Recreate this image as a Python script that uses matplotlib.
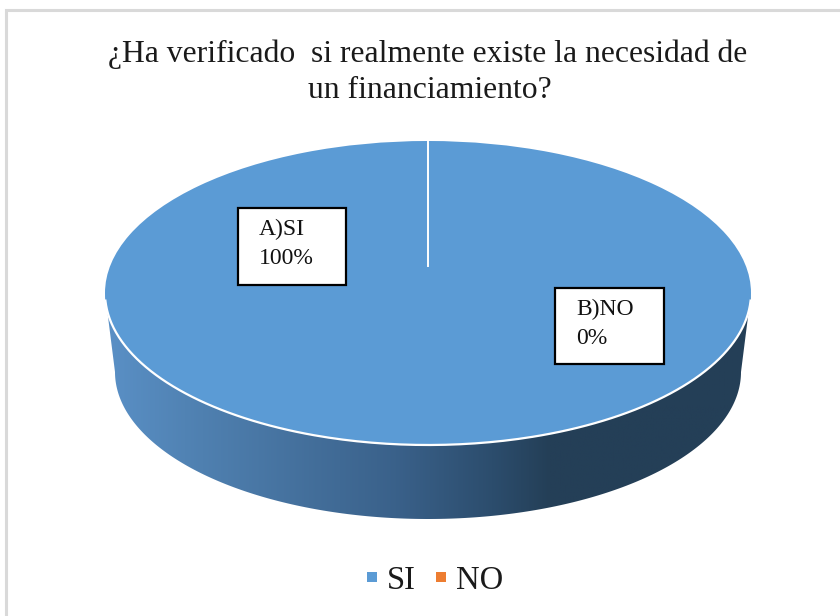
import numpy as np
import matplotlib
matplotlib.use("Agg")
import matplotlib.pyplot as plt
from matplotlib.colors import LinearSegmentedColormap
from matplotlib.patches import Polygon

# Data
categories = ["SI", "NO"]
values = [100, 0]
colors = ["#5B9BD5", "#ED7D31"]
title_lines = ["¿Ha verificado  si realmente existe la necesidad de", "un financiamiento?"]
label_a = ["A)SI", "100%"]
label_b = ["B)NO", "0%"]

W, H = 840, 616
plt.rcParams['font.family'] = ['Liberation Serif', 'DejaVu Serif']

fig = plt.figure(figsize=(W/100, H/100), dpi=100)

# Background in pixel coords
bg = fig.add_axes([0, 0, 1, 1], zorder=1)
bg.set_xlim(0, W)
bg.set_ylim(H, 0)
bg.axis("off")

# Grey frame, left and top only
bg.plot([6, 6, W], [H, 10, 10], color="#D9D9D9", lw=2.2, solid_joinstyle="miter")

# Side of the 3D pie
cx, cy, rx, ry = 428, 293, 323, 152
t = np.linspace(0, np.pi, 200)
top_x = cx + rx*np.cos(t)
top_y = cy + ry*np.sin(t)
low_x = 428 + 313*np.cos(t)
low_y = 372 + 147*np.sin(t)
side_x = np.concatenate([top_x, low_x[::-1]])
side_y = np.concatenate([top_y, low_y[::-1]])
side = Polygon(np.column_stack([side_x, side_y]), closed=True, fc="none", ec="none")
bg.add_patch(side)
cmap = LinearSegmentedColormap.from_list("side", [
	(0.00, "#5A90C6"), (0.15, "#4F80B0"), (0.45, "#3A618A"),
	(0.60, "#2C4D6D"), (0.69, "#243F57"), (1.00, "#243F57")])
grad = bg.imshow(np.linspace(0, 1, 256)[None, :], cmap=cmap, aspect="auto",
	extent=[105, 751, 525, 290], zorder=1)
grad.set_clip_path(side)
bg.set_xlim(0, W)
bg.set_ylim(H, 0)

# Top of the pie
ax = fig.add_axes([(cx-rx)/W, 1-(cy+ry)/H, 2*rx/W, 2*ry/H], zorder=2)
wedges, _ = ax.pie(values, colors=colors, startangle=90, counterclock=False,
	radius=1, wedgeprops=dict(lw=0))
ax.set_aspect("auto")
ax.set_xlim(-1, 1)
ax.set_ylim(-1, 1)

# Overlay for line, labels and titles
top = fig.add_axes([0, 0, 1, 1], zorder=3)
top.set_xlim(0, W)
top.set_ylim(H, 0)
top.axis("off")
top.patch.set_alpha(0)

# White rim on the front edge and the slice seam
t2 = np.linspace(0.05, np.pi-0.05, 200)
top.plot(cx + rx*np.cos(t2), cy + ry*np.sin(t2), color="white", lw=1.6)
top.plot([428, 428], [142, 266], color="white", lw=1.4)

# Label boxes
for x0, y0, x1, y1, txt in [(238, 208, 346, 285, label_a), (555, 288, 664, 364, label_b)]:
	top.add_patch(plt.Rectangle((x0, y0), x1-x0, y1-y0, fc="white", ec="black", lw=1.6))
	top.text(x0+21, y0+21, txt[0], fontsize=17, va="center", ha="left", color="#111111")
	top.text(x0+21, y0+50, txt[1], fontsize=17, va="center", ha="left", color="#111111")

top.text(428, 54, title_lines[0], fontsize=22.8, ha="center", va="center", color="#1a1a1a")
top.text(430, 90, title_lines[1], fontsize=22.8, ha="center", va="center", color="#1a1a1a")

fig.legend(wedges, categories, loc="center", bbox_to_anchor=(435/W, 1-581/H), ncol=2,
	frameon=False, fontsize=23.5, handlelength=0.31, handleheight=0.1,
	handletextpad=0.28, columnspacing=0.64, labelcolor="#1a1a1a")

fig.savefig("out.png", dpi=100)
